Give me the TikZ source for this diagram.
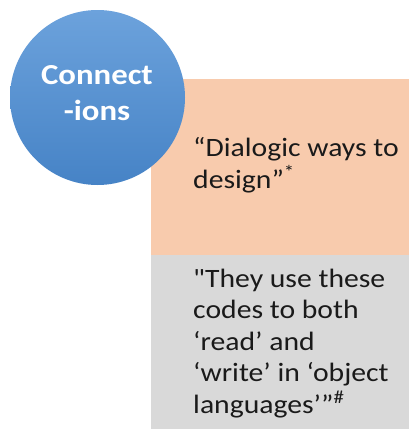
\documentclass[tikz,border=0pt]{standalone}
\usepackage{fontspec}
\setmainfont{Carlito}
\definecolor{peach}{HTML}{F8CBAD}
\definecolor{lightgray}{HTML}{D9D9D9}
\definecolor{bluetop}{HTML}{6CA2DC}
\definecolor{bluebot}{HTML}{4683C6}
\definecolor{inktext}{HTML}{1A1A1A}
\tikzset{
  quotetext/.style={inner sep=0pt, align=left, anchor=base west, text=inktext,
    xscale=1.12, font=\fontsize{26.5}{31.5}\selectfont},
  bubble/.style={circle, minimum size=175pt, inner sep=0pt,
    top color=bluetop, bottom color=bluebot, draw=none},
  bubbletext/.style={text=white, align=center, inner sep=0pt, xscale=1.13,
    font=\bfseries\fontsize{29}{36.5}\selectfont}
}
\begin{document}
\begin{tikzpicture}[x=1pt, y=-1pt]
  \useasboundingbox (0,0) rectangle (409,429);
  % the two stacked panels
  \fill[peach] (151,79) rectangle (409,255);
  \fill[lightgray] (151,255) rectangle (409,429);
  % circle heading (anchored at the baseline of its last line)
  \node[bubble] (head) at (97.5,97.5) {};
  \node[bubbletext, anchor=base] (headtxt) at (97,120.5) {Connect\\-ions};
  % panel texts (anchored at the baseline of their last line)
  \node[quotetext] (quoteA) at (193,188)
    {\fontsize{26.5}{30}\selectfont “Dialogic ways to\\design”\textsuperscript{*}};
  \node[quotetext] (quoteB) at (193,413)
    {\textquotedbl They use these\\codes to both\\‘read’ and\\‘write’ in ‘object\\languages’”\textsuperscript{\#}};
\end{tikzpicture}
\end{document}
